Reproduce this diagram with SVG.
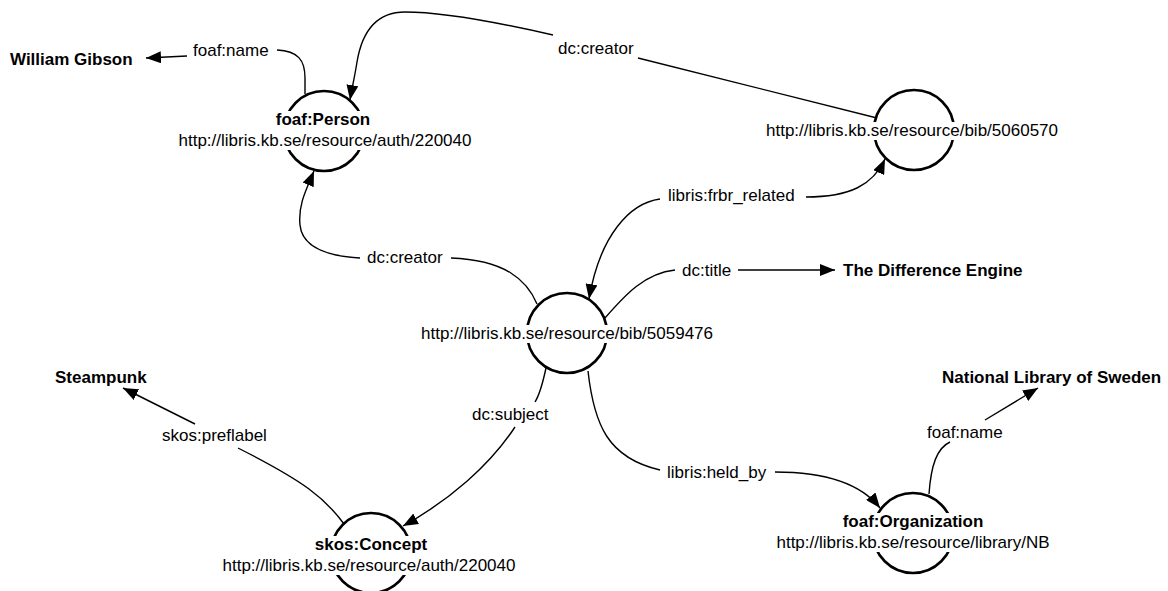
<svg xmlns="http://www.w3.org/2000/svg" width="1168" height="591" viewBox="0 0 1168 591">
<style>
text{font-family:"Liberation Sans",Arial,sans-serif;font-size:17px;fill:#000}
.b{font-weight:bold}
.m{text-anchor:middle}
.node{fill:none;stroke:#000;stroke-width:2.6}
.mask{fill:#fff;stroke:none}
.edge{fill:none;stroke:#000;stroke-width:1.4}
.arr{marker-end:url(#ah)}
</style>
<defs>
<marker id="ah" markerUnits="userSpaceOnUse" markerWidth="16" markerHeight="12" refX="15" refY="6" orient="auto">
<path d="M0,0 L15,6 L0,12 z" fill="#000"/>
</marker>
</defs>
<rect width="1168" height="591" fill="#fff"/>
<g id="connectors">
<path class="edge" d="M305,94 L305,78 C305,60 298,51 277,50"/>
<path class="edge arr" d="M187,56 L146,58"/>
<path class="edge" d="M877,118 L638,58"/>
<path class="edge arr" d="M553,35 C505,24 445,12 405,12 C372,12 361,38 357,62 C355,75 352,88 350,100"/>
<path class="edge" d="M537,304 C527,280 505,260 451,258"/>
<path class="edge arr" d="M360,258 C325,256 302,246 300,225 C298,205 306,190 314,171"/>
<path class="edge arr" d="M660,199 C630,203 600,235 589,299"/>
<path class="edge arr" d="M806,197 C850,197 873,185 885,159"/>
<path class="edge" d="M605,318 C625,295 645,273 675,270"/>
<path class="edge arr" d="M738,270 L835,270"/>
<path class="edge" d="M546,368 C543,382 540,394 535,402"/>
<path class="edge arr" d="M515,427 C490,465 450,500 403,526"/>
<path class="edge" d="M344,524 C325,498 305,482 238,448"/>
<path class="edge arr" d="M195,424 L123,388"/>
<path class="edge" d="M588,371 C594,425 608,458 660,470"/>
<path class="edge arr" d="M775,472 C830,472 862,485 880,508"/>
<path class="edge" d="M929,494 C931,465 937,448 950,442"/>
<path class="edge arr" d="M985,420 L1038,388"/>
</g>
<g id="edge-labels">
<text x="193" y="56">foaf:name</text>
<text x="558" y="54">dc:creator</text>
<text x="668" y="201">libris:frbr_related</text>
<text x="367" y="263">dc:creator</text>
<text x="682" y="276">dc:title</text>
<text x="472" y="420">dc:subject</text>
<text x="162" y="441">skos:preflabel</text>
<text x="667" y="478">libris:held_by</text>
<text x="927" y="438">foaf:name</text>
</g>
<g id="lit-gibson"><text class="b" x="10" y="65">William Gibson</text></g>
<g id="lit-title"><text class="b" x="843" y="276">The Difference Engine</text></g>
<g id="lit-steampunk"><text class="b" x="55" y="383">Steampunk</text></g>
<g id="lit-nls"><text class="b" x="942" y="383">National Library of Sweden</text></g>
<g id="person">
<circle class="node" cx="324" cy="131" r="40"/>
<rect class="mask" x="270" y="111" width="110" height="39"/>
<text class="b m" x="323" y="125">foaf:Person</text>
<text class="m" x="325" y="146">http://libris.kb.se/resource/auth/220040</text>
</g>
<g id="bib5060570">
<circle class="node" cx="914" cy="130" r="40"/>
<rect class="mask" x="860" y="122" width="110" height="18"/>
<text class="m" x="912" y="136">http://libris.kb.se/resource/bib/5060570</text>
</g>
<g id="bib5059476">
<circle class="node" cx="567" cy="333" r="40"/>
<rect class="mask" x="513" y="325" width="110" height="18"/>
<text class="m" x="567" y="339">http://libris.kb.se/resource/bib/5059476</text>
</g>
<g id="concept">
<circle class="node" cx="371" cy="553" r="40"/>
<rect class="mask" x="317" y="536" width="110" height="39"/>
<text class="b m" x="371" y="550">skos:Concept</text>
<text class="m" x="369" y="571">http://libris.kb.se/resource/auth/220040</text>
</g>
<g id="organization">
<circle class="node" cx="913" cy="533" r="40"/>
<rect class="mask" x="858" y="513" width="110" height="39"/>
<text class="b m" x="913" y="527">foaf:Organization</text>
<text class="m" x="913" y="548">http://libris.kb.se/resource/library/NB</text>
</g>
</svg>
